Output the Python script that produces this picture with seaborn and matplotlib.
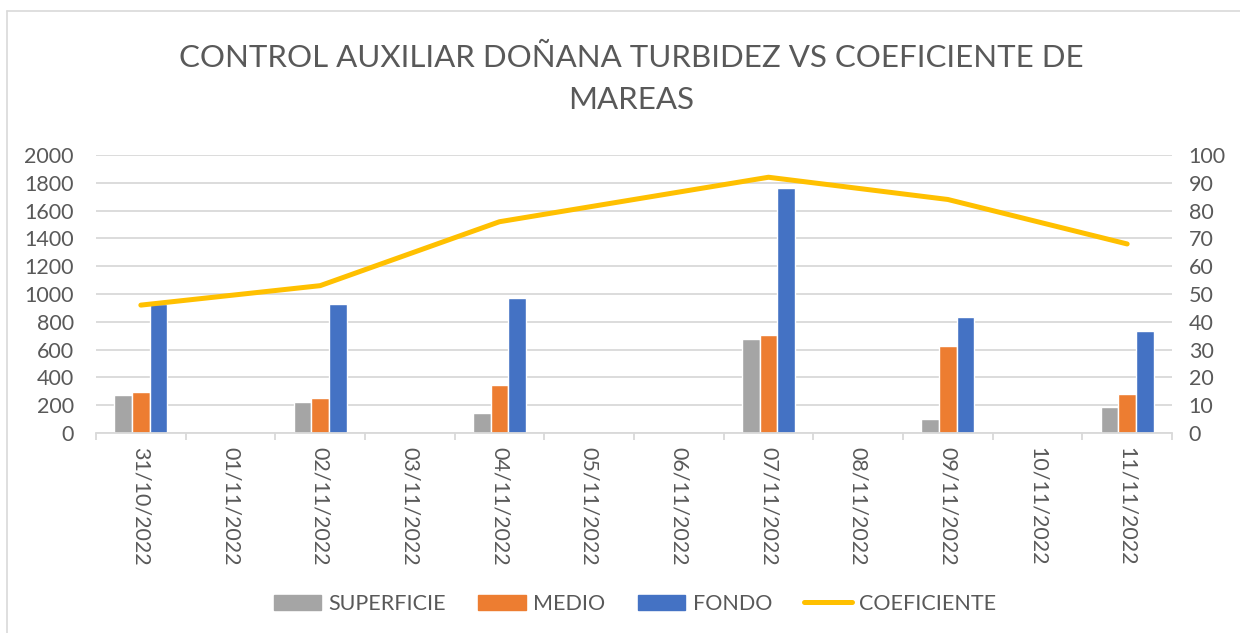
import numpy as np
import pandas as pd
import matplotlib
matplotlib.use("Agg")
import matplotlib.pyplot as plt
from matplotlib.lines import Line2D
from matplotlib.patches import Patch
import seaborn as sns

sns.set_theme(style="white")
plt.rcParams['font.family'] = ['Lato', 'DejaVu Sans']

# chart data
fechas = ["31/10/2022", "01/11/2022", "02/11/2022", "03/11/2022", "04/11/2022", "05/11/2022",
          "06/11/2022", "07/11/2022", "08/11/2022", "09/11/2022", "10/11/2022", "11/11/2022"]
fechas_medidas = ["31/10/2022", "02/11/2022", "04/11/2022", "07/11/2022", "09/11/2022", "11/11/2022"]
superficie = [275, 223, 146, 675, 103, 189]
medio = [295, 250, 343, 705, 628, 280]
fondo = [925, 928, 970, 1762, 832, 733]
coeficiente = [46, 53, 76, 92, 84, 68]

series = ["SUPERFICIE", "MEDIO", "FONDO"]
colores = ["#A5A5A5", "#ED7D31", "#4472C4"]
amarillo = "#FFC000"
gris_txt = "#595959"
gris_rej = "#D9D9D9"

df = pd.DataFrame({"fecha": fechas_medidas * 3,
                   "serie": np.repeat(series, len(fechas_medidas)),
                   "valor": superficie + medio + fondo})

fig = plt.figure(figsize=(12.4, 6.33), dpi=100)
ax = fig.add_axes([96 / 1240, 1 - 433 / 633, (1172 - 96) / 1240, (433 - 155) / 633])

sns.barplot(data=df, x="fecha", y="valor", hue="serie", order=fechas, hue_order=series,
            palette=colores, width=0.59, saturation=1, ax=ax, legend=False)
ax.set_ylim(0, 2000)
ax.set_yticks(range(0, 2001, 200))
ax.set_xlim(-0.5, len(fechas) - 0.5)
ax.set_xlabel("")
ax.set_ylabel("")
ax.grid(axis="y", color=gris_rej, linewidth=1.3)
ax.set_axisbelow(True)
for s in ["left", "right", "top"]:
    ax.spines[s].set_visible(False)
ax.spines["bottom"].set_color(gris_rej)
ax.spines["bottom"].set_linewidth(1.3)
ax.set_xticks(np.arange(-0.5, len(fechas)), minor=True)
ax.tick_params(axis="x", which="major", length=0, pad=10, labelsize=15.5, labelcolor=gris_txt, rotation=270)
ax.tick_params(axis="x", which="minor", length=5, width=1.3, color=gris_rej, bottom=True)
ax.tick_params(axis="y", length=0, pad=16, labelsize=15.5, labelcolor=gris_txt)

# coeficiente on the secondary axis, connecting only the measured days
ax2 = ax.twinx()
pos = [fechas.index(f) for f in fechas_medidas]
sns.lineplot(x=pos, y=coeficiente, color=amarillo, linewidth=3.6, ax=ax2)
for ln in ax2.lines:
    ln.set_solid_capstyle("round")
    ln.set_solid_joinstyle("round")
ax2.set_ylim(0, 100)
ax2.set_yticks(range(0, 101, 10))
ax2.set_xlim(-0.5, len(fechas) - 0.5)
ax2.grid(False)
for s in ax2.spines.values():
    s.set_visible(False)
ax2.tick_params(axis="y", length=0, pad=12, labelsize=15.5, labelcolor=gris_txt)

fig.text(631 / 1240, 1 - 79 / 633, "CONTROL AUXILIAR DOÑANA TURBIDEZ VS COEFICIENTE DE\nMAREAS",
         ha="center", va="center", fontsize=22.5, color=gris_txt, linespacing=1.6)

handles = [Patch(color=c) for c in colores] + [Line2D([], [], color=amarillo, linewidth=3.6, solid_capstyle="round")]
fig.legend(handles, series + ["COEFICIENTE"], loc="center", bbox_to_anchor=(635 / 1240, 1 - 604 / 633),
           ncol=4, frameon=False, fontsize=15.5, labelcolor=gris_txt, handlelength=2.2,
           handleheight=0.75, handletextpad=0.35, columnspacing=1.5)

# chart frame, only left and top edges are visible in the crop
fig.add_artist(Line2D([7 / 1240, 7 / 1240], [0, 1 - 11 / 633], transform=fig.transFigure, color=gris_rej, linewidth=1.2))
fig.add_artist(Line2D([7 / 1240, 1], [1 - 11 / 633, 1 - 11 / 633], transform=fig.transFigure, color=gris_rej, linewidth=1.2))

fig.savefig("out.png", dpi=100)
